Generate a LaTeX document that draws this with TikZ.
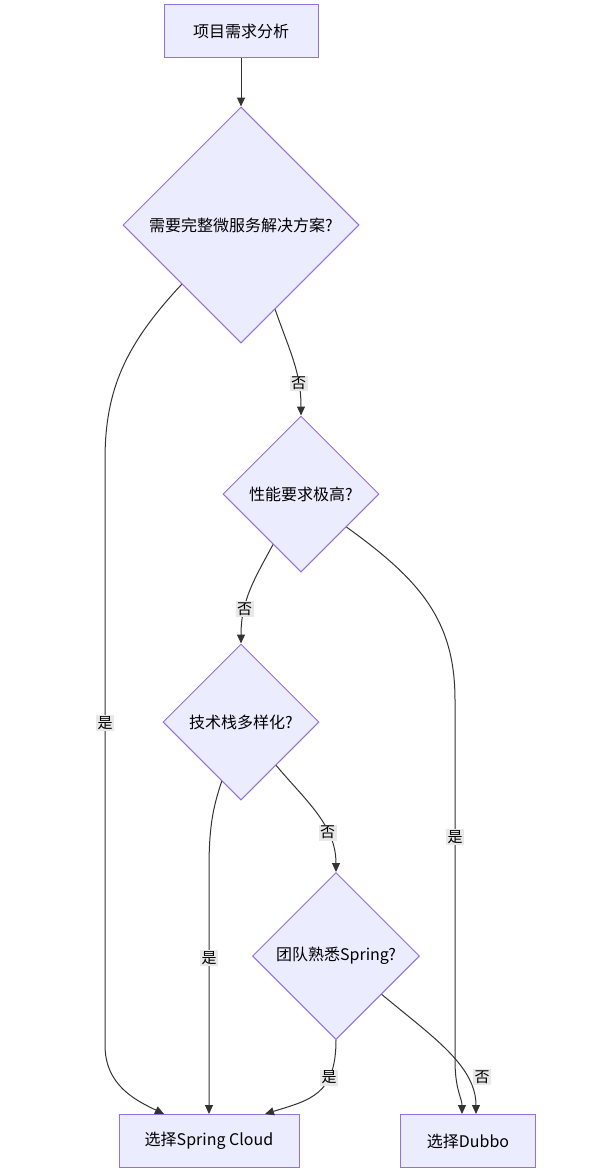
\documentclass[tikz,border=0pt]{standalone}
\usepackage{fontspec}
\setmainfont{Noto Sans CJK SC}
\usetikzlibrary{shapes, arrows.meta, positioning}
\usepackage{xcolor}
\definecolor{boxfill}{HTML}{ECECFF}
\definecolor{boxline}{HTML}{9370DB}
\definecolor{edgeline}{HTML}{333333}
\definecolor{tagfill}{HTML}{E8E8E8}
\tikzstyle{block} = [rectangle, draw=boxline, fill=boxfill, line width=1pt,
    minimum height=53pt, inner sep=0pt, font=\fontsize{16}{19}\selectfont]
\tikzstyle{decision} = [diamond, aspect=1, draw=boxline, fill=boxfill, line width=1pt,
    inner sep=0pt, font=\fontsize{16}{19}\selectfont]
\tikzstyle{line} = [draw=edgeline, line width=1pt, -{Triangle[length=9pt,width=8pt]}]
\tikzstyle{tag} = [fill=tagfill, text=black, inner sep=1.5pt, font=\fontsize{15}{18}\selectfont]

\begin{document}
\begin{tikzpicture}[x=1pt, y=-1pt]
        \useasboundingbox (0,0) rectangle (593,1172);
        % Nodes
        \node [block, minimum width=154pt] (req) at (241,31) {项目需求分析};
        \node [decision, minimum size=236pt] (micro) at (241,225) {需要完整微服务解决方案?};
        \node [decision, minimum size=156pt] (perf) at (301,494) {性能要求极高?};
        \node [decision, minimum size=156pt] (stack) at (241,722) {技术栈多样化?};
        \node [decision, minimum size=167pt] (team) at (336,956) {团队熟悉Spring?};
        \node [block, minimum width=180pt] (cloud) at (209,1141) {选择Spring Cloud};
        \node [block, minimum width=135pt] (dubbo) at (468,1141) {选择Dubbo};

        % Lines
        \path [line] (req) -- (micro.north);
        \path [line] (micro.-68) .. controls (290,352) and (301,372) .. node [tag, pos=0.72] {否} (perf.north);
        \path [line] (micro.south west) .. controls (125,345) and (105,390) .. (105,460)
            -- node [tag, pos=0.45] {是} (105,1045)
            .. controls (105,1085) and (135,1100) .. ([xshift=-45pt]cloud.north);
        \path [line] (perf.-119) .. controls (255,578) and (241,600) .. node [tag, pos=0.7] {否} (stack.north);
        \path [line] (perf.-36) .. controls (420,580) and (455,620) .. (455,700)
            -- node [tag, pos=0.38] {是} (455,1060)
            .. controls (455,1090) and (462,1098) .. ([xshift=-6pt]dubbo.north);
        \path [line] (stack.-108) .. controls (212,810) and (209,830) .. (209,870)
            -- node [tag, pos=0.36] {是} (cloud.north);
        \path [line] (stack.-51) .. controls (305,800) and (336,825) .. node [tag, pos=0.68] {否} (team.north);
        \path [line] (team.south) .. controls (336,1095) and (310,1100) .. node [tag, pos=0.3] {是} ([xshift=56pt]cloud.north);
        \path [line] (team.-40) .. controls (430,1035) and (476,1065) .. ([xshift=8pt]dubbo.north);
        \node [tag] (nolast) at (482,1077) {否};
    \end{tikzpicture}
\end{document}
